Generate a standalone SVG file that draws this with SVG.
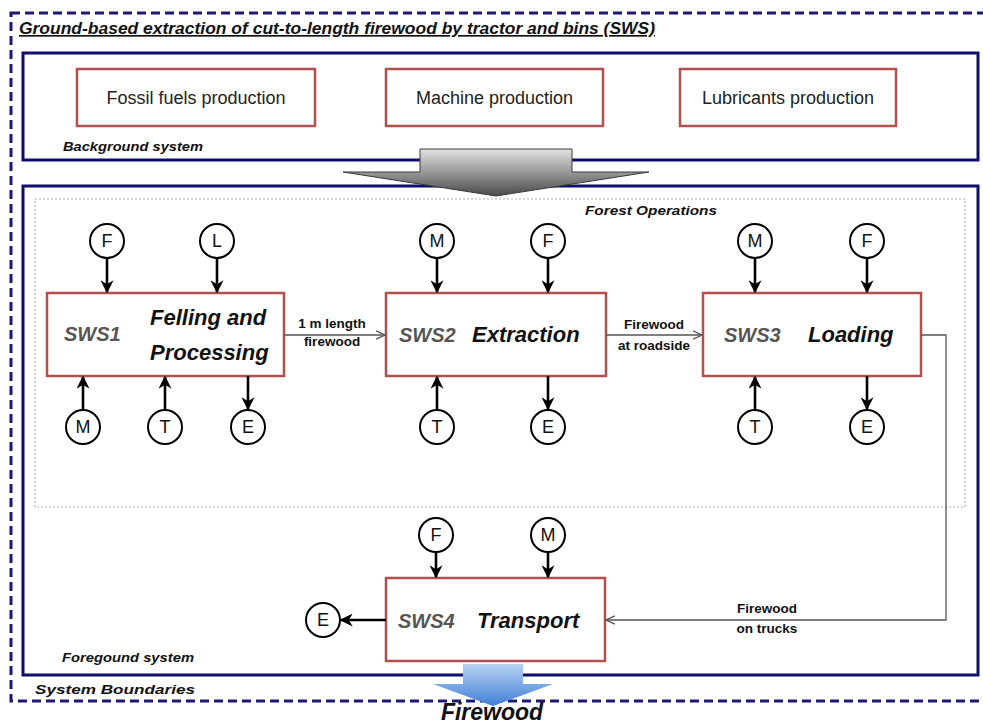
<svg xmlns="http://www.w3.org/2000/svg" width="983" height="727" viewBox="0 0 983 727">
  <style>
    .frame { fill: none; stroke: #0d0d6b; stroke-width: 3; }
    .bound { fill: none; stroke: #1a1a70; stroke-width: 3; stroke-dasharray: 9 5; }
    .ops { fill: none; stroke: #9fb3c8; stroke-width: 1.2; stroke-dasharray: 2 2; }
    .proc { fill: #ffffff; stroke: #b24f4f; stroke-width: 2.5; }
    .res { fill: #ffffff; stroke: #000; stroke-width: 2; }
    .rl { font-family: "Liberation Sans", Arial, sans-serif; font-size: 18px; fill: #111; text-anchor: middle; }
    .bl { font-family: "Liberation Sans", Arial, sans-serif; font-size: 18px; fill: #222; text-anchor: middle; }
    .cap { font-family: "Liberation Sans", Arial, sans-serif; font-size: 13px; font-weight: bold; font-style: italic; fill: #111; }
    .code { font-family: "Liberation Sans", Arial, sans-serif; font-size: 20px; font-weight: bold; font-style: italic; fill: #555; }
    .name { font-family: "Liberation Sans", Arial, sans-serif; font-size: 22px; font-weight: bold; font-style: italic; fill: #111; }
    .flow { font-family: "Liberation Sans", Arial, sans-serif; font-size: 13.5px; font-weight: bold; fill: #111; text-anchor: middle; }
    .io { stroke: #000; stroke-width: 2.6; fill: none; marker-end: url(#head); }
    .mat { stroke: #555; stroke-width: 1.3; fill: none; marker-end: url(#open); }
  </style>
  <defs>
    <marker id="head" viewBox="0 0 10 10" refX="9" refY="5" markerWidth="5" markerHeight="5" orient="auto" markerUnits="strokeWidth">
      <path d="M0,0 L10,5 L0,10 L3,5 Z" fill="#000"/>
    </marker>
    <marker id="open" viewBox="0 0 10 10" refX="9.5" refY="5" markerWidth="8" markerHeight="8" orient="auto" markerUnits="strokeWidth">
      <path d="M1,1 L9.5,5 L1,9" fill="none" stroke="#555" stroke-width="1.2"/>
    </marker>
    <linearGradient id="grey" x1="0" y1="0" x2="0" y2="1">
      <stop offset="0" stop-color="#e4e4e4"/>
      <stop offset="1" stop-color="#4a4a4a"/>
    </linearGradient>
    <linearGradient id="blue" x1="0" y1="0" x2="0" y2="1">
      <stop offset="0" stop-color="#b8d2f4"/>
      <stop offset="1" stop-color="#3f7fd6"/>
    </linearGradient>
  </defs>

  <!-- system boundary -->
  <rect class="bound" x="11" y="13" width="980" height="688"/>
  <text class="cap" x="19" y="34" text-decoration="underline" textLength="636" lengthAdjust="spacingAndGlyphs" style="font-size:16.5px">Ground-based extraction of cut-to-length firewood by tractor and bins (SWS)</text>
  <text class="cap" x="35" y="694" textLength="160" lengthAdjust="spacingAndGlyphs">System Boundaries</text>

  <!-- background system -->
  <g id="background">
    <rect class="frame" x="23" y="53" width="955" height="107"/>
    <text class="cap" x="63" y="151" textLength="140" lengthAdjust="spacingAndGlyphs">Background system</text>
  </g>
  <g id="fossil">
    <rect class="proc" x="77" y="69" width="238" height="57"/>
    <text class="bl" x="196" y="104">Fossil fuels production</text>
  </g>
  <g id="machine">
    <rect class="proc" x="386" y="69" width="217" height="57"/>
    <text class="bl" x="494.5" y="104">Machine production</text>
  </g>
  <g id="lubricants">
    <rect class="proc" x="680" y="69" width="216" height="57"/>
    <text class="bl" x="788" y="104">Lubricants production</text>
  </g>

  <!-- foreground system -->
  <g id="foreground">
    <rect class="frame" x="23" y="186" width="955" height="489"/>
    <text class="cap" x="62" y="662" textLength="132" lengthAdjust="spacingAndGlyphs">Foregound system</text>
  </g>
  <g id="forest-ops">
    <rect class="ops" x="35" y="199" width="930" height="308"/>
    <text class="cap" x="585" y="215" textLength="132" lengthAdjust="spacingAndGlyphs">Forest Operations</text>
  </g>

  <!-- background to foreground transfer arrow -->
  <path d="M420,149 L572,149 L572,172 L649,172 L496,196 L343,172 L420,172 Z" fill="url(#grey)" stroke="#3a3a3a" stroke-width="1"/>

  <!-- SWS1 -->
  <g id="sws1">
    <rect class="proc" x="47" y="293" width="237" height="83"/>
    <text class="code" x="64" y="341">SWS1</text>
    <text class="name" x="150" y="325">Felling and</text>
    <text class="name" x="150" y="360">Processing</text>
  </g>
  <!-- SWS2 -->
  <g id="sws2">
    <rect class="proc" x="386" y="293" width="220" height="83"/>
    <text class="code" x="399" y="342">SWS2</text>
    <text class="name" x="472" y="342">Extraction</text>
  </g>
  <!-- SWS3 -->
  <g id="sws3">
    <rect class="proc" x="703" y="293" width="218" height="83"/>
    <text class="code" x="724" y="342">SWS3</text>
    <text class="name" x="808" y="342">Loading</text>
  </g>
  <!-- SWS4 -->
  <g id="sws4">
    <rect class="proc" x="386" y="578" width="219" height="83"/>
    <text class="code" x="398" y="628">SWS4</text>
    <text class="name" x="477" y="628">Transport</text>
  </g>

  <!-- resource / emission nodes -->
  <g id="sws1-f"><circle class="res" cx="107" cy="241" r="17"/><text class="rl" x="107" y="247">F</text></g>
  <g id="sws1-l"><circle class="res" cx="217" cy="241" r="17"/><text class="rl" x="217" y="247">L</text></g>
  <g id="sws1-m"><circle class="res" cx="83" cy="427" r="17"/><text class="rl" x="83" y="433">M</text></g>
  <g id="sws1-t"><circle class="res" cx="165" cy="427" r="17"/><text class="rl" x="165" y="433">T</text></g>
  <g id="sws1-e"><circle class="res" cx="248" cy="427" r="17"/><text class="rl" x="248" y="433">E</text></g>

  <g id="sws2-m"><circle class="res" cx="437" cy="241" r="17"/><text class="rl" x="437" y="247">M</text></g>
  <g id="sws2-f"><circle class="res" cx="548" cy="241" r="17"/><text class="rl" x="548" y="247">F</text></g>
  <g id="sws2-t"><circle class="res" cx="437" cy="427" r="17"/><text class="rl" x="437" y="433">T</text></g>
  <g id="sws2-e"><circle class="res" cx="548" cy="427" r="17"/><text class="rl" x="548" y="433">E</text></g>

  <g id="sws3-m"><circle class="res" cx="755" cy="241" r="17"/><text class="rl" x="755" y="247">M</text></g>
  <g id="sws3-f"><circle class="res" cx="867" cy="241" r="17"/><text class="rl" x="867" y="247">F</text></g>
  <g id="sws3-t"><circle class="res" cx="755" cy="427" r="17"/><text class="rl" x="755" y="433">T</text></g>
  <g id="sws3-e"><circle class="res" cx="867" cy="427" r="17"/><text class="rl" x="867" y="433">E</text></g>

  <g id="sws4-f"><circle class="res" cx="436" cy="535" r="17"/><text class="rl" x="436" y="541">F</text></g>
  <g id="sws4-m"><circle class="res" cx="548" cy="535" r="17"/><text class="rl" x="548" y="541">M</text></g>
  <g id="sws4-e"><circle class="res" cx="323" cy="620" r="17"/><text class="rl" x="323" y="626">E</text></g>

  <!-- connectors -->
  <g id="connectors">
    <!-- SWS1 inputs / outputs -->
    <line class="io" x1="107" y1="258" x2="107" y2="292"/>
    <line class="io" x1="217" y1="258" x2="217" y2="292"/>
    <line class="io" x1="83" y1="410" x2="83" y2="377"/>
    <line class="io" x1="165" y1="410" x2="165" y2="377"/>
    <line class="io" x1="248" y1="376" x2="248" y2="409"/>
    <!-- SWS2 -->
    <line class="io" x1="437" y1="258" x2="437" y2="292"/>
    <line class="io" x1="548" y1="258" x2="548" y2="292"/>
    <line class="io" x1="437" y1="410" x2="437" y2="377"/>
    <line class="io" x1="548" y1="376" x2="548" y2="409"/>
    <!-- SWS3 -->
    <line class="io" x1="755" y1="258" x2="755" y2="292"/>
    <line class="io" x1="867" y1="258" x2="867" y2="292"/>
    <line class="io" x1="755" y1="410" x2="755" y2="377"/>
    <line class="io" x1="867" y1="376" x2="867" y2="409"/>
    <!-- SWS4 -->
    <line class="io" x1="436" y1="552" x2="436" y2="577"/>
    <line class="io" x1="548" y1="552" x2="548" y2="577"/>
    <line class="io" x1="386" y1="620" x2="341" y2="620"/>

    <!-- material flow between stages -->
    <line class="mat" x1="284" y1="335" x2="385" y2="335"/>
    <text class="flow" x="332" y="328">1 m length</text>
    <text class="flow" x="332" y="346">firewood</text>

    <line class="mat" x1="606" y1="335" x2="702" y2="335"/>
    <text class="flow" x="654" y="329">Firewood</text>
    <text class="flow" x="654" y="350">at roadside</text>

    <polyline class="mat" points="921,335 946,335 946,620 606,620"/>
    <text class="flow" x="767" y="613">Firewood</text>
    <text class="flow" x="767" y="633">on trucks</text>
  </g>

  <!-- product output -->
  <g id="firewood">
    <path d="M463,664 L523,664 L523,684 L553,684 L493,706 L433,684 L463,684 Z" fill="url(#blue)"/>
    <text class="name" x="492" y="720" text-anchor="middle" style="font-size:23px">Firewood</text>
  </g>
</svg>
